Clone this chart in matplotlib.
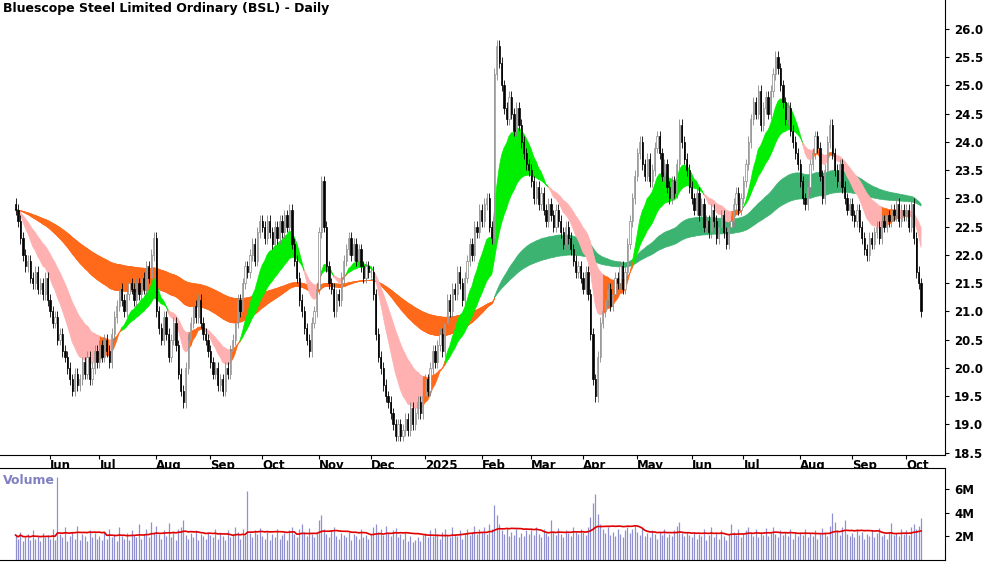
import matplotlib
matplotlib.use("Agg")
import matplotlib.pyplot as plt
import numpy as np
import pandas as pd

months_close = [
 [22.8,22.6,22.3,22.0,21.8,21.9,21.6,21.5,21.7,21.4,21.5,21.3,21.6,21.2],
 [21.0,20.8,20.9,20.5,20.6,20.3,20.2,20.0,19.8,19.6,19.9,19.7,19.8,20.1,19.9,20.2,19.8,20.0,20.3,20.1],
 [20.4,20.2,20.5,20.3,20.1,20.6,20.9,21.1,21.4,21.2,21.0,21.3,21.5,21.4,21.2,21.5,21.3,21.6,21.4,21.8,21.6,22.0,22.3],
 [21.0,20.7,20.5,20.9,20.6,20.2,20.5,20.8,20.4,19.9,19.6,19.4,20.0,20.5,20.8,21.1,20.9,21.2,20.8,20.6,20.5,20.3],
 [20.1,19.9,20.0,19.7,19.8,19.6,20.0,19.9,20.3,20.5,20.8,21.2,21.0,21.5,21.8,21.7,22.0,22.2,21.9,22.4,22.6],
 [22.5,22.3,22.6,22.4,22.2,22.5,22.3,22.6,22.4,22.7,22.5,22.8,22.2,21.9,21.6,21.2,21.0,20.7,20.5,20.3,20.8,21.0,21.4],
 [22.4,23.3,22.5,21.8,21.5,21.4,21.0,21.3,21.2,21.6,21.9,22.1,22.3,22.0,22.2,21.9,22.1,21.8,21.6,21.8,21.7],
 [21.7,21.3,20.6,20.2,20.0,19.7,19.5,19.4,19.2,19.0,18.8,19.0,18.8,18.9,19.1,18.9,19.3,19.0,19.2,19.4,19.2,19.5],
 [19.8,19.6,20.0,20.3,20.1,20.4,20.6,20.3,20.8,21.2,21.0,21.4,21.3,21.7,21.5,21.2,21.6,21.9,22.2,22.0,22.5,22.4,22.8],
 [22.6,22.9,23.0,22.5,22.3,25.2,25.7,25.4,25.0,24.6,24.4,24.8,24.5,24.2,24.6,24.3,24.0,23.8,23.6,23.5],
 [23.3,23.0,23.2,22.9,23.1,22.8,22.6,22.9,22.7,22.5,22.8,22.6,22.4,22.2,22.5,22.3,22.1,21.9,21.7,21.8,21.6],
 [21.4,21.7,21.3,20.6,19.8,19.5,20.2,20.8,21.0,21.2,21.4,21.1,21.3,21.6,21.5,21.8,21.4,21.7,22.2,22.6,23.0,23.4],
 [23.8,24.0,23.6,23.4,23.7,23.3,23.5,23.9,24.1,23.8,23.4,23.6,23.2,23.0,23.3,23.1,23.6,24.3,24.0,23.7,23.5,23.2],
 [23.0,22.8,23.1,22.7,22.9,22.5,22.6,22.4,22.8,22.6,22.3,22.5,22.7,22.4,22.2,22.5,22.6,22.9,23.1,22.8,23.0],
 [23.3,23.6,24.0,24.4,24.7,24.5,24.9,24.3,24.6,24.8,24.5,24.9,25.2,25.5,25.3,25.0,24.7,24.4,24.6,24.2,24.0,23.8,23.6],
 [23.3,23.0,22.9,23.2,23.6,23.8,24.1,23.9,23.4,23.0,23.5,24.0,24.3,23.8,23.5,23.3,23.6,23.2,23.0,22.8,22.9],
 [22.7,22.6,22.8,22.5,22.3,22.1,22.0,22.3,22.2,22.4,22.5,22.3,22.6,22.5,22.7,22.6,22.8,22.7,22.9,22.6,22.8,22.7],
 [22.8,22.5,22.9,22.3,21.7,21.5,21.0],
]
months_vol = [
 [2.1,1.8,2.4,1.6,1.9,2.2,1.7,2.5,1.8,2.0,1.6,2.3,1.9,2.1],
 [1.8,2.6,1.7,7.0,2.2,1.9,2.8,1.6,2.0,2.4,1.8,2.9,1.7,2.2,2.0,1.6,2.5,1.9,2.3,1.8],
 [2.0,1.7,2.4,1.8,2.6,1.9,2.2,1.6,2.8,2.0,1.8,2.3,1.7,2.5,2.1,1.9,3.0,1.8,2.2,2.6,1.9,3.2,2.4],
 [2.9,2.2,1.8,2.5,2.0,3.1,1.9,2.4,1.7,2.6,2.8,3.4,2.1,1.8,2.3,1.9,2.5,1.7,2.2,2.0,1.8,2.4],
 [2.1,1.9,2.6,1.8,2.3,2.0,1.7,2.5,1.9,2.2,2.8,2.4,1.8,2.6,2.1,5.8,2.3,1.9,2.5,2.2,2.7],
 [2.0,1.8,2.4,1.7,2.2,1.9,2.6,1.8,2.1,2.3,1.7,2.5,2.8,2.2,1.9,2.6,3.0,2.4,2.0,2.7,2.2,1.9,2.3],
 [3.4,3.8,2.6,2.2,1.9,2.5,2.8,2.0,1.8,2.3,2.1,1.9,2.4,1.7,2.2,2.0,1.8,2.6,1.9,2.1,1.8],
 [2.2,2.8,3.0,2.4,2.6,2.1,2.9,2.3,2.0,2.5,2.7,1.9,2.2,1.8,2.4,1.6,2.0,1.5,1.7,1.9,1.6,2.1],
 [2.3,1.9,2.5,2.0,2.7,2.2,1.8,2.4,2.6,2.1,1.9,2.8,2.2,2.0,2.5,1.8,2.3,2.6,2.1,2.4,2.9,2.2,2.6],
 [2.4,2.8,2.2,3.0,2.6,4.6,3.8,3.0,2.5,2.2,2.7,2.0,2.4,2.1,2.6,1.9,2.3,2.0,2.5,2.2],
 [2.5,2.1,2.8,2.2,1.9,2.6,2.3,2.0,3.4,2.4,2.1,2.7,2.2,1.9,2.5,2.3,2.0,2.8,2.4,2.2,2.6],
 [2.4,2.1,2.8,3.6,4.8,5.6,3.9,3.0,2.6,2.3,2.8,2.1,2.4,2.0,2.6,2.2,1.9,2.5,2.8,2.3,2.6,2.9],
 [2.4,2.1,2.7,2.0,2.3,1.9,2.5,2.2,1.8,2.4,2.1,2.6,1.9,2.2,2.0,2.5,2.9,3.2,2.3,2.0,2.4,2.1],
 [1.9,2.3,1.8,2.2,2.0,2.6,1.7,2.1,2.8,1.9,2.3,1.8,2.5,2.0,1.7,2.2,3.0,2.4,2.1,2.6,1.9],
 [2.2,2.5,2.8,2.3,2.0,2.6,1.9,2.4,2.1,2.7,2.0,2.3,2.8,2.2,1.9,2.5,2.1,2.4,2.0,2.6,1.8,2.3,2.0],
 [2.4,2.1,2.6,1.9,2.3,2.0,2.5,1.8,2.2,2.7,2.4,2.0,2.9,4.0,3.2,2.5,2.1,2.8,3.4,2.2,2.0],
 [2.3,1.9,2.6,2.1,2.4,1.8,2.2,2.0,2.5,1.9,2.3,2.7,2.0,2.2,1.8,2.4,3.1,2.1,2.3,2.0,2.6,2.2],
 [2.5,2.1,2.8,3.0,2.6,2.9,3.5],
]
closes = np.array([c for m in months_close for c in m])
volumes = np.array([v for m in months_vol for v in m]) * 1e6
wick = 0.1
title = "Bluescope Steel Limited Ordinary (BSL) - Daily"

n = len(closes)
dates = pd.bdate_range("2024-05-14", periods=n)
opens = np.r_[closes[0] + 0.1, closes[:-1]]
highs = np.maximum(opens, closes) + wick
lows = np.minimum(opens, closes) - wick
x = np.arange(n)
s = pd.Series(closes)
e_f1 = s.ewm(span=12, adjust=False).mean().values
e_f2 = s.ewm(span=28, adjust=False).mean().values
e_l1 = s.ewm(span=80, adjust=False).mean().values
e_l2 = s.ewm(span=140, adjust=False).mean().values

fig = plt.figure(figsize=(10, 5.62), dpi=100)
ax = fig.add_axes([0.0, 1 - 455/562, 0.945, 455/562])
axv = fig.add_axes([0.0, 2/562, 0.945, 92/562])
XL = (-6.3, 376.7)

def ribbon(a, b, up_col, dn_col, fall_col):
    rising = np.r_[True, np.diff(a) >= 0]
    up = a >= b
    cols = np.where(up, up_col, np.where(rising, dn_col, fall_col))
    for c in (up_col, dn_col, fall_col):
        m = cols == c
        mm = m | np.r_[False, m[:-1]]
        ax.fill_between(x, a, b, where=mm, color=c, lw=0.5, edgecolor=c, zorder=1)

ribbon(e_l1, e_l2, "#3cb371", "#ff6a1a", "#ff6a1a")
ribbon(e_f1, e_f2, "#00ee00", "#ff6a1a", "#ffb0b0")

for i in range(n):
    up = closes[i] >= opens[i]
    ax.vlines(x[i], lows[i], highs[i], color="#888888" if up else "black", lw=0.6, zorder=2)
    bot = min(opens[i], closes[i]); h = max(abs(closes[i] - opens[i]), 0.02)
    ax.bar(x[i], h, bottom=bot, width=0.5, color="white" if up else "black",
           edgecolor="#888888" if up else "black", lw=0.5, zorder=3)

ax.set_xlim(*XL)
ax.set_ylim(18.46, 26.51)
ax.yaxis.tick_right()
yt = np.arange(18.5, 26.01, 0.5)
ax.set_yticks(yt)
ax.set_yticklabels([f"{v:.1f}" for v in yt])
month_starts = [i for i in range(1, n) if dates[i].month != dates[i-1].month]
labels = [("2025" if dates[i].month == 1 else dates[i].strftime("%b")) for i in month_starts]
ax.set_xticks(month_starts)
ax.set_xticklabels(labels, ha="left")
ax.tick_params(axis="x", length=3, pad=0, labelsize=8.5, direction="out")
ax.tick_params(axis="y", length=3, labelsize=8.5)
for t in ax.get_xticklabels() + ax.get_yticklabels():
    t.set_fontweight("bold")
for sp in ["top", "left"]:
    ax.spines[sp].set_visible(False)
ax.text(0.003, 0.995, title, transform=ax.transAxes, va="top", ha="left",
        fontsize=9, fontweight="bold")

axv.vlines(x, 0, volumes, color="#9090d0", lw=0.9)
axv.plot(x, pd.Series(volumes).rolling(20, min_periods=1).mean(), color="#e00000", lw=1.2)
axv.set_xlim(*XL)
axv.set_ylim(0, 7.75e6)
axv.yaxis.tick_right()
axv.set_yticks([2e6, 4e6, 6e6])
axv.set_yticklabels(["2M", "4M", "6M"])
axv.tick_params(axis="y", length=3, labelsize=8.5)
for t in axv.get_yticklabels():
    t.set_fontweight("bold")
axv.set_xticks([])
axv.spines["left"].set_visible(False)
axv.text(0.003, 0.93, "Volume", transform=axv.transAxes, va="top", ha="left",
         fontsize=9, fontweight="bold", color="#8080c0")
fig.savefig("out.png", dpi=100)
